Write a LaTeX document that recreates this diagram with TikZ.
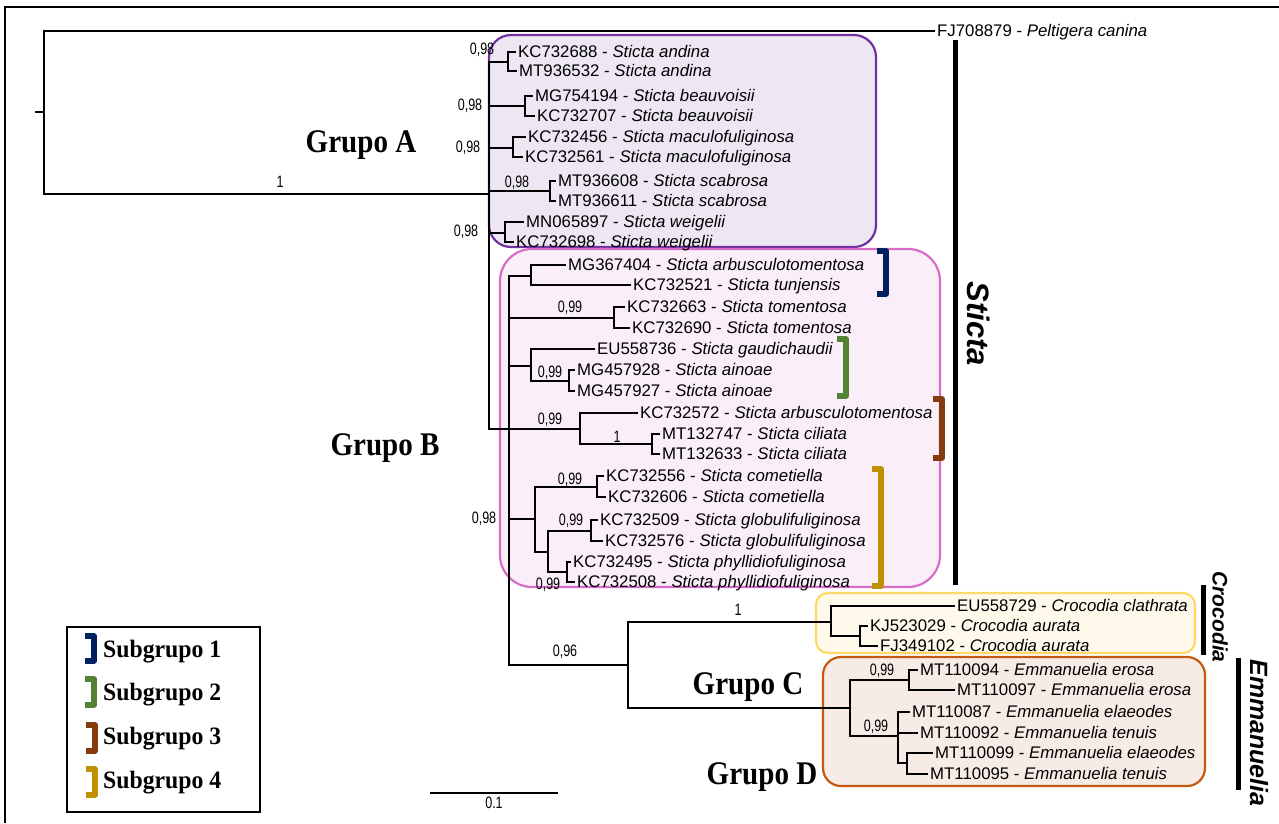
\documentclass[tikz,border=0pt]{standalone}
\usepackage{fontspec}
\setmainfont{Liberation Sans}
\newfontfamily\narrowsans[FakeStretch=0.76]{Liberation Sans}
\newfontfamily\grupofont[FakeStretch=0.88]{Liberation Serif}
\newfontfamily\subfont[FakeStretch=0.95]{Liberation Serif}
\definecolor{cladeA}{HTML}{7030A0}
\definecolor{cladeAfill}{HTML}{EDE7F4}
\definecolor{cladeB}{HTML}{D96CCB}
\definecolor{cladeBfill}{HTML}{FAEFF8}
\definecolor{cladeC}{HTML}{FFD966}
\definecolor{cladeCfill}{HTML}{FFF9EC}
\definecolor{cladeD}{HTML}{C55A11}
\definecolor{cladeDfill}{HTML}{F6EBE5}
\definecolor{subone}{HTML}{002060}
\definecolor{subtwo}{HTML}{548235}
\definecolor{subthree}{HTML}{843C0C}
\definecolor{subfour}{HTML}{BF9000}
\tikzset{
    taxon/.style={anchor=west, inner ysep=0pt, inner xsep=2pt,
        font=\fontsize{16.8}{18}\selectfont, text height=12pt, text depth=1pt},
    support/.style={inner sep=0pt, font=\narrowsans\fontsize{16.5}{16.5}\selectfont},
    branch/.style={line width=1.8pt},
    grupo/.style={inner sep=0pt, font=\grupofont\bfseries\fontsize{33}{36}\selectfont},
    subtext/.style={anchor=west, inner sep=0pt, font=\subfont\bfseries\fontsize{25}{28}\selectfont},
    genus/.style={inner sep=0pt, rotate=-90, font=\bfseries\itshape},
    genusbar/.style={line width=5pt},
    bracket/.style={line width=5.5pt, line join=round},
    cladebox/.style={line width=2.2pt, rounded corners=#1},
}
\newcommand{\taxon}[5] {
    \node[taxon] (#1) at ({#2}, {#3}) {#4 - \textit{#5}};
}
\newcommand{\support}[4] {
    \node[support] (#1) at ({#2}, {#3}) {#4};
}
\newcommand{\subbracket}[4] {
    \draw[bracket, draw={#1}] ({#2-9}, {#3}) -- ({#2}, {#3}) -- ({#2}, {#4}) -- ({#2-9}, {#4});
}
\begin{document}
\begin{tikzpicture}[x=1pt, y=-1pt]
    \useasboundingbox (0,0) rectangle (1279,823);
    \draw[line width=1.8pt] (5,823) -- (5,7) -- (1279,7);

    % clade boxes
    \draw[cladebox=22pt, draw=cladeA, fill=cladeAfill] (489,35) rectangle (876,247);
    \draw[cladebox=32pt, draw=cladeB, fill=cladeBfill] (500,249) rectangle (940,587);
    \draw[cladebox=12pt, draw=cladeC, fill=cladeCfill] (816,593) rectangle (1195,653);
    \draw[cladebox=18pt, draw=cladeD, fill=cladeDfill] (823,657) rectangle (1205,786);

    % taxa
    \taxon{pel}{935}{31}{FJ708879}{Peltigera canina}
    \taxon{t1}{516}{52}{KC732688}{Sticta andina}
    \taxon{t2}{517}{71}{MT936532}{Sticta andina}
    \taxon{t3}{533}{96}{MG754194}{Sticta beauvoisii}
    \taxon{t4}{535}{116}{KC732707}{Sticta beauvoisii}
    \taxon{t5}{526}{137}{KC732456}{Sticta maculofuliginosa}
    \taxon{t6}{523}{157}{KC732561}{Sticta maculofuliginosa}
    \taxon{t7}{556}{181}{MT936608}{Sticta scabrosa}
    \taxon{t8}{556}{201}{MT936611}{Sticta scabrosa}
    \taxon{t9}{524}{222}{MN065897}{Sticta weigelii}
    \taxon{t10}{514}{242}{KC732698}{Sticta weigelii}
    \taxon{t11}{566}{265}{MG367404}{Sticta arbusculotomentosa}
    \taxon{t12}{631}{285}{KC732521}{Sticta tunjensis}
    \taxon{t13}{625}{307}{KC732663}{Sticta tomentosa}
    \taxon{t14}{630}{328}{KC732690}{Sticta tomentosa}
    \taxon{t15}{595}{349}{EU558736}{Sticta gaudichaudii}
    \taxon{t16}{575}{370}{MG457928}{Sticta ainoae}
    \taxon{t17}{575}{391}{MG457927}{Sticta ainoae}
    \taxon{t18}{638}{413}{KC732572}{Sticta arbusculotomentosa}
    \taxon{t19}{660}{434}{MT132747}{Sticta ciliata}
    \taxon{t20}{660}{454}{MT132633}{Sticta ciliata}
    \taxon{t21}{604}{476}{KC732556}{Sticta cometiella}
    \taxon{t22}{606}{497}{KC732606}{Sticta cometiella}
    \taxon{t23}{598}{520}{KC732509}{Sticta globulifuliginosa}
    \taxon{t24}{603}{541}{KC732576}{Sticta globulifuliginosa}
    \taxon{t25}{571}{562}{KC732495}{Sticta phyllidiofuliginosa}
    \taxon{t26}{575}{582}{KC732508}{Sticta phyllidiofuliginosa}
    \taxon{t27}{955}{606}{EU558729}{Crocodia clathrata}
    \taxon{t28}{868}{626}{KJ523029}{Crocodia aurata}
    \taxon{t29}{878}{646}{FJ349102}{Crocodia aurata}
    \taxon{t30}{918}{670}{MT110094}{Emmanuelia erosa}
    \taxon{t31}{955}{690}{MT110097}{Emmanuelia erosa}
    \taxon{t32}{910}{712}{MT110087}{Emmanuelia elaeodes}
    \taxon{t33}{918}{733}{MT110092}{Emmanuelia tenuis}
    \taxon{t34}{933}{753}{MT110099}{Emmanuelia elaeodes}
    \taxon{t35}{928}{774}{MT110095}{Emmanuelia tenuis}

    % internal nodes
    \coordinate (stub) at (35,112);
    \coordinate (root) at (44,112);
    \coordinate (S) at (489,194);
    \coordinate (a1) at (508,62);
    \coordinate (a2) at (525,106);
    \coordinate (a3) at (513,148);
    \coordinate (a4) at (550,191);
    \coordinate (a5) at (505,233);
    \coordinate (B) at (509,429);
    \coordinate (b1) at (531,276);
    \coordinate (b2) at (614,318);
    \coordinate (b3) at (531,366);
    \coordinate (b3a) at (569,381);
    \coordinate (b4) at (580,429);
    \coordinate (b4a) at (652,444);
    \coordinate (b5) at (535,519);
    \coordinate (b5a) at (597,487);
    \coordinate (b5b) at (548,552);
    \coordinate (b5c) at (591,531);
    \coordinate (b5d) at (567,572);
    \coordinate (cd) at (628,665);
    \coordinate (croc) at (831,622);
    \coordinate (c2) at (860,636);
    \coordinate (emm) at (850,708);
    \coordinate (e1) at (909,680);
    \coordinate (e2) at (898,736);
    \coordinate (e3) at (907,763);

    % branches
    \draw[branch] (stub) -- (root);
    \draw[branch] (root) |- (pel.west);
    \draw[branch] (root) |- (S);
    \foreach \n in {a1,a2,a3,a4,a5,B}
        \draw[branch] (S) |- (\n);
    \foreach \n/\u/\v in {a1/t1/t2, a2/t3/t4, a3/t5/t6, a4/t7/t8, a5/t9/t10,
                          b1/t11/t12, b2/t13/t14, b3a/t16/t17, b4a/t19/t20,
                          b5a/t21/t22, b5c/t23/t24, b5d/t25/t26, c2/t28/t29,
                          e1/t30/t31, e3/t34/t35}
        \draw[branch] (\n) |- (\u.west) (\n) |- (\v.west);
    \foreach \n in {b1,b2,b3,b4,b5,cd}
        \draw[branch] (B) |- (\n);
    \draw[branch] (b3) |- (t15.west) (b3) |- (b3a);
    \draw[branch] (b4) |- (t18.west) (b4) |- (b4a);
    \draw[branch] (b5) |- (b5a) (b5) |- (b5b);
    \draw[branch] (b5b) |- (b5c) (b5b) |- (b5d);
    \draw[branch] (cd) |- (croc) (cd) |- (emm);
    \draw[branch] (croc) |- (t27.west) (croc) |- (c2);
    \draw[branch] (emm) |- (e1) (emm) |- (e2);
    \draw[branch] (e2) |- (t32.west) (e2) |- (t33.west) (e2) |- (e3);

    % support values
    \support{s1}{482}{50}{0,98}
    \support{s2}{470}{106}{0,98}
    \support{s3}{468}{148}{0,98}
    \support{s4}{517}{183}{0,98}
    \support{s5}{466}{232}{0,98}
    \support{s6}{280}{182}{1}
    \support{s7}{570}{308}{0,99}
    \support{s8}{550}{373}{0,99}
    \support{s9}{550}{420}{0,99}
    \support{s10}{617}{437}{1}
    \support{s11}{570}{480}{0,99}
    \support{s12}{571}{521}{0,99}
    \support{s13}{548}{585}{0,99}
    \support{s14}{484}{519}{0,98}
    \support{s15}{565}{652}{0,96}
    \support{s16}{738}{610}{1}
    \support{s17}{882}{671}{0,99}
    \support{s18}{876}{727}{0,99}

    % subgroups
    \subbracket{subone}{886}{251}{294}
    \subbracket{subtwo}{846}{339}{396}
    \subbracket{subthree}{942}{399}{458}
    \subbracket{subfour}{881}{469}{586}

    % genera
    \draw[genusbar] (955,40) -- (955,585);
    \node[genus, font=\bfseries\itshape\fontsize{31}{31}\selectfont] (sticta) at (979,324) {Sticta};
    \draw[genusbar] (1203,585) -- (1203,655);
    \node[genus, font=\bfseries\itshape\fontsize{21}{21}\selectfont] (crocodia) at (1220,617) {Crocodia};
    \draw[genusbar] (1238,658) -- (1238,790);
    \node[genus, font=\bfseries\itshape\fontsize{25}{25}\selectfont] (emmanuelia) at (1259,733) {Emmanuelia};

    % groups
    \node[grupo] (grA) at (361,145) {Grupo A};
    \node[grupo] (grB) at (385,448) {Grupo B};
    \node[grupo] (grC) at (748,687) {Grupo C};
    \node[grupo] (grD) at (762,777) {Grupo D};

    % legend
    \draw[line width=1.4pt] (67,627) rectangle (260,812);
    \subbracket{subone}{94}{636}{661}
    \subbracket{subtwo}{94}{679}{705}
    \subbracket{subthree}{95}{725}{751}
    \subbracket{subfour}{95}{769}{795}
    \node[subtext] (leg1) at (103,652) {Subgrupo 1};
    \node[subtext] (leg2) at (103,695) {Subgrupo 2};
    \node[subtext] (leg3) at (103,739) {Subgrupo 3};
    \node[subtext] (leg4) at (103,783) {Subgrupo 4};

    % scale
    \coordinate (sc1) at (430,793);
    \coordinate (sc2) at (558,793);
    \draw[line width=1.4pt] (sc1) -- (sc2);
    \support{scl}{494}{803}{0.1}
\end{tikzpicture}
\end{document}
